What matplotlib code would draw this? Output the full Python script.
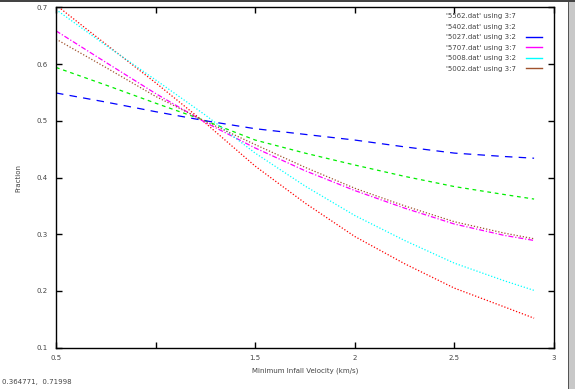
import matplotlib
matplotlib.use("Agg")
import matplotlib.pyplot as plt
from matplotlib.lines import Line2D
from matplotlib.patches import Rectangle

# values (x = minimum infall velocity)
x = [0.5, 0.75, 1.0, 1.25, 1.5, 1.75, 2.0, 2.25, 2.5, 2.75, 2.9]
red = [0.704, 0.635, 0.567, 0.496, 0.420, 0.355, 0.296, 0.248, 0.205, 0.172, 0.152]
green = [0.594, 0.563, 0.531, 0.500, 0.466, 0.443, 0.422, 0.402, 0.384, 0.370, 0.362]
blue = [0.549, 0.533, 0.516, 0.500, 0.486, 0.476, 0.466, 0.454, 0.443, 0.437, 0.434]
magenta = [0.6585, 0.603, 0.548, 0.497, 0.452, 0.412, 0.377, 0.346, 0.318, 0.298, 0.289]
cyan = [0.696, 0.633, 0.572, 0.510, 0.443, 0.385, 0.333, 0.289, 0.249, 0.218, 0.201]
brown = [0.644, 0.594, 0.543, 0.499, 0.458, 0.418, 0.381, 0.350, 0.322, 0.302, 0.292]

labels = ["'5562.dat' using 3:7", "'5402.dat' using 3:2", "'5027.dat' using 3:2",
          "'5707.dat' using 3:7", "'5008.dat' using 3:2", "'5002.dat' using 3:7"]
xticks = [0.5, 1.0, 1.5, 2.0, 2.5, 3.0]
xtick_labels = ["0.5", "", "1.5", "2", "2.5", "3"]
yticks = [0.1, 0.2, 0.3, 0.4, 0.5, 0.6, 0.7]
ytick_labels = ["0.1", "0.2", "0.3", "0.4", "0.5", "0.6", "0.7"]

txt = "#444444"
fs = 5

fig = plt.figure(figsize=(5.75, 3.89), dpi=100)
ax = fig.add_axes([56 / 575, 41.3 / 389, 498 / 575, 340.4 / 389])

lw = 0.9
ax.plot(x, red, color="#ff0000", lw=lw, ls=(0, (1, 1.5)))
ax.plot(x, green, color="#00ee00", lw=lw, ls=(0, (3, 3)))
ax.plot(x, blue, color="#0000ff", lw=lw, ls=(0, (6, 5)))
ax.plot(x, magenta, color="#ff00ff", lw=lw, ls=(0, (4, 1.5, 1, 1.5)))
ax.plot(x, cyan, color="#00ffff", lw=lw, ls=(0, (1, 1.5)))
ax.plot(x, brown, color="#a0522d", lw=lw, ls=(0, (1, 1.5)))

ax.set_xlim(0.5, 3.0)
ax.set_ylim(0.1, 0.7)
ax.set_xticks(xticks)
ax.set_xticklabels(xtick_labels)
ax.set_yticks(yticks)
ax.set_yticklabels(ytick_labels)
ax.tick_params(direction="in", length=4, width=1, top=True, right=True,
               labelsize=fs, labelcolor=txt, pad=5)
ax.tick_params(axis="y", pad=6)
for s in ax.spines.values():
    s.set_linewidth(1.0)

ax.set_xlabel("Minimum Infall Velocity (km/s)", fontsize=fs, color=txt, labelpad=5)
ax.set_ylabel("Fraction", fontsize=fs, color=txt, labelpad=11)

# legend: the first two entries show no sample line in the reference
handles = [Line2D([], [], ls="none"), Line2D([], [], ls="none"),
           Line2D([], [], color="#0000ff", lw=1),
           Line2D([], [], color="#ff00ff", lw=1),
           Line2D([], [], color="#00ffff", lw=1),
           Line2D([], [], color="#a0522d", lw=1)]
leg = ax.legend(handles, labels, loc="upper right", bbox_to_anchor=(0.985, 0.997),
                frameon=False, fontsize=fs, markerfirst=False, handlelength=2.2,
                labelspacing=0.65, handletextpad=1.5, borderaxespad=0.3)
for t in leg.get_texts():
    t.set_color(txt)

fig.text(2 / 575, 1 - 382 / 389, "0.364771,  0.71998", fontsize=fs, color=txt,
         va="center", ha="left")

# window edges of the original screenshot
fig.patches.append(Rectangle((569 / 575, 0), 6 / 575, 1, transform=fig.transFigure,
                             facecolor="#c8c8c8", edgecolor="none"))
fig.patches.append(Rectangle((568 / 575, 0), 1.2 / 575, 1, transform=fig.transFigure,
                             facecolor="#555555", edgecolor="none"))
fig.patches.append(Rectangle((0, 1 - 2 / 389), 1, 2 / 389, transform=fig.transFigure,
                             facecolor="#444444", edgecolor="none"))

fig.savefig("out.png", dpi=100)
